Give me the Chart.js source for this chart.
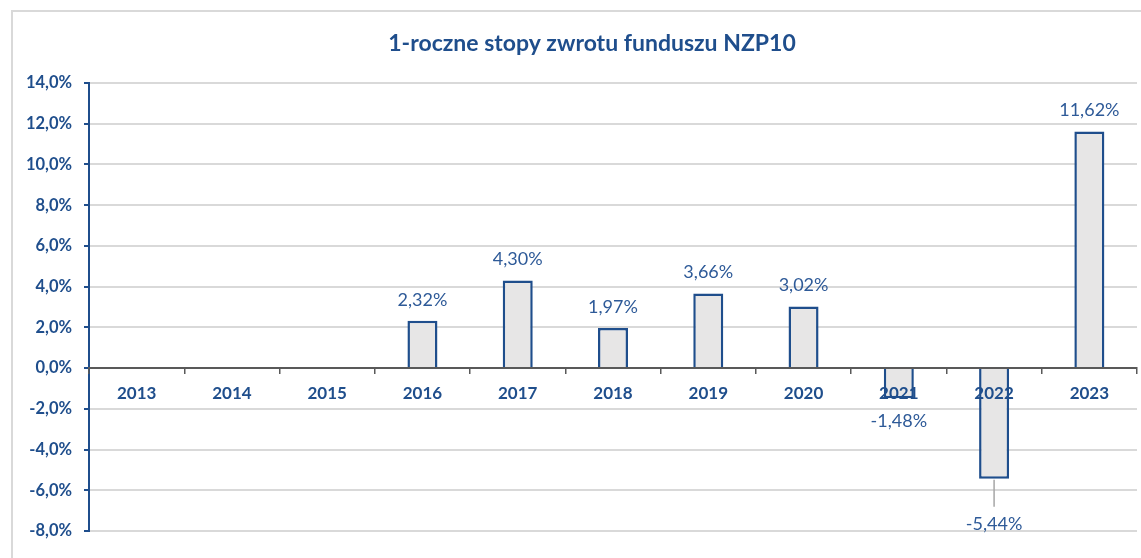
<!DOCTYPE html>
<html>
<head>
<meta charset="utf-8">
<script src="https://cdn.jsdelivr.net/npm/chart.js@4"></script>
<style>
  body { margin: 0; background: #fff; }
  #wrap { width: 1141px; height: 558px; }
</style>
</head>
<body>
<div id="wrap"><canvas id="myChart" width="1141" height="558"></canvas></div>
<script>
// data
const years = ["2013", "2014", "2015", "2016", "2017", "2018", "2019", "2020", "2021", "2022", "2023"];
const returns = [null, null, null, 2.32, 4.30, 1.97, 3.66, 3.02, -1.48, -5.44, 11.62];
const yTicks = [-8, -6, -4, -2, 0, 2, 4, 6, 8, 10, 12, 14];
const chartTitle = "1-roczne stopy zwrotu funduszu NZP10";

const navy = "#1f4e8c";
const labelBlue = "#2e5a98";
const FONT = "Lato, 'Open Sans', sans-serif";

const fmtPct = (v, d) => v.toFixed(d).replace(".", ",") + "%";

// frame + title
const framePlugin = {
    id: "frame",
    beforeDraw(chart) {
        const ctx = chart.ctx;
        ctx.save();
        ctx.strokeStyle = "#d9d9d9";
        ctx.lineWidth = 2;
        ctx.beginPath();
        ctx.moveTo(12, 600);
        ctx.lineTo(12, 11);
        ctx.lineTo(1200, 11);
        ctx.stroke();
        ctx.fillStyle = navy;
        ctx.font = "bold 23px " + FONT;
        ctx.textAlign = "center";
        ctx.textBaseline = "middle";
        ctx.fillText(chartTitle, 592, 44);
        ctx.restore();
    }
};

// value labels, with a leader line where the label was pulled away
const valueLabels = {
    id: "valueLabels",
    afterDraw(chart, args, opts) {
        const ctx = chart.ctx;
        const meta = chart.getDatasetMeta(0);
        ctx.save();
        ctx.font = "18px " + FONT;
        ctx.fillStyle = labelBlue;
        ctx.textAlign = "center";
        ctx.textBaseline = "middle";
        meta.data.forEach((bar, i) => {
            const v = returns[i];
            if (v === null) return;
            let y;
            if (v >= 0) {
                y = bar.y - 21;
            } else {
                const pulled = opts.pulled[years[i]];
                if (pulled) {
                    y = bar.y + pulled;
                    ctx.strokeStyle = "#a6a6a6";
                    ctx.lineWidth = 1.5;
                    ctx.beginPath();
                    ctx.moveTo(bar.x, bar.y + 1);
                    ctx.lineTo(bar.x, y - 17);
                    ctx.stroke();
                } else {
                    y = bar.y + 23;
                }
            }
            ctx.fillText(fmtPct(v, 2), bar.x, y);
        });
        ctx.restore();
    }
};

const ctx = document.getElementById("myChart").getContext("2d");
new Chart(ctx, {
    type: "bar",
    data: {
        labels: years,
        datasets: [{
            data: returns,
            backgroundColor: "#e7e6e6",
            borderColor: navy,
            borderWidth: 2.5,
            barPercentage: 0.63,
            categoryPercentage: 0.5
        }]
    },
    options: {
        responsive: false,
        animation: false,
        layout: { padding: { top: 83, bottom: 27, left: 0, right: 4 } },
        plugins: {
            legend: { display: false },
            title: { display: false },
            tooltip: { enabled: false },
            valueLabels: { pulled: { "2022": 45 } }
        },
        scales: {
            x: {
                position: { y: 0 },
                grid: {
                    offset: true,
                    drawOnChartArea: false,
                    color: "#595959",
                    tickLength: 5,
                    lineWidth: 1.5,
                    z: 1
                },
                border: { color: "#595959", width: 2, z: 1 },
                ticks: {
                    color: navy,
                    font: { family: FONT, size: 17, weight: "bold" },
                    padding: 10,
                    maxRotation: 0,
                    z: 2
                }
            },
            y: {
                min: -8,
                max: 14,
                afterFit(scale) { scale.width = 89; },
                afterBuildTicks(scale) { scale.ticks = yTicks.map(v => ({ value: v })); },
                grid: {
                    color: "#d9d9d9",
                    lineWidth: 2,
                    tickColor: navy,
                    tickLength: 5
                },
                border: { color: navy, width: 2 },
                ticks: {
                    color: navy,
                    font: { family: FONT, size: 16.5, weight: "bold" },
                    padding: 12,
                    callback: v => fmtPct(v, 1)
                }
            }
        }
    },
    plugins: [framePlugin, valueLabels]
});
</script>
</body>
</html>
